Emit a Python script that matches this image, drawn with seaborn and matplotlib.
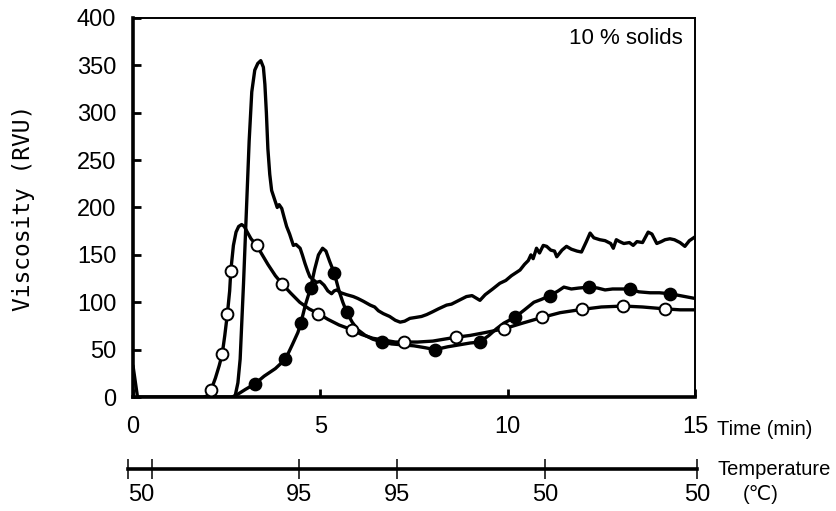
import numpy as np
import pandas as pd
import matplotlib
matplotlib.use("Agg")
import matplotlib.pyplot as plt
import seaborn as sns

# series without markers (highest peak)
t_plain = [0, 0.12, 2.72, 2.80, 2.86, 2.95, 3.03, 3.10, 3.17, 3.25, 3.33, 3.41, 3.48, 3.52, 3.56,
           3.60, 3.65, 3.70, 3.75, 3.80, 3.85, 3.90, 3.97, 4.03, 4.10, 4.18, 4.28, 4.35, 4.46, 4.52,
           4.59, 4.66, 4.72, 4.80, 4.90, 4.99, 5.10, 5.20, 5.30, 5.37, 5.44, 5.55, 5.70, 5.88, 6.00,
           6.15, 6.33, 6.45, 6.55, 6.68, 6.85, 7.00, 7.13, 7.25, 7.39, 7.55, 7.70, 7.84, 8.00, 8.15,
           8.37, 8.50, 8.70, 8.90, 9.05, 9.26, 9.40, 9.60, 9.79, 9.95, 10.10, 10.33, 10.45, 10.55,
           10.62, 10.68, 10.77, 10.85, 10.95, 11.04, 11.15, 11.25, 11.31, 11.45, 11.57, 11.70, 11.85,
           11.97, 12.10, 12.20, 12.30, 12.46, 12.60, 12.75, 12.82, 12.90, 12.99, 13.10, 13.25, 13.35,
           13.45, 13.60, 13.75, 13.85, 13.98, 14.10, 14.20, 14.33, 14.45, 14.60, 14.73, 14.85, 15.00]
v_plain = [33, 0, 0, 15, 40, 120, 200, 270, 322, 345, 352, 355, 348, 330, 300,
           262, 235, 218, 212, 206, 200, 203, 199, 190, 180, 172, 160, 161, 157, 150,
           141, 133, 127, 124, 121, 122, 118, 112, 109, 112, 113, 110, 108, 106, 104,
           101, 97, 95, 91, 88, 85, 81, 79, 80, 83, 84, 85, 87, 90, 93,
           97, 98, 102, 106, 107, 102, 108, 114, 120, 123, 128, 134, 140, 144,
           150, 146, 157, 152, 160, 159, 155, 154, 148, 155, 159, 156, 154,
           153, 164, 173, 168, 166, 165, 162, 157, 166, 164, 162, 163, 160,
           164, 163, 174, 172, 162, 164, 166, 167, 166, 163, 159, 165, 169]

# open-circle series
t_open = [1.90, 1.97, 2.08, 2.20, 2.30, 2.38, 2.45, 2.52, 2.58, 2.61, 2.68, 2.75, 2.82, 2.90, 2.97,
          3.05, 3.15, 3.30, 3.45, 3.60, 3.80, 3.99, 4.20, 4.45, 4.70, 4.95, 5.20, 5.50, 5.84, 6.10,
          6.40, 6.70, 7.00, 7.24, 7.60, 8.00, 8.30, 8.61, 9.00, 9.40, 9.90, 10.40, 10.92, 11.40,
          11.99, 12.50, 13.09, 13.60, 14.20, 14.60, 15.00]
v_open = [0, 1, 7, 20, 33, 45, 65, 88, 112, 133, 160, 174, 180, 182, 180,
          174, 167, 160, 150, 140, 128, 119, 110, 100, 93, 88, 82, 76, 71, 66,
          62, 60, 58, 58, 58, 59, 61, 63, 65, 68, 72, 78, 84, 89,
          92.5, 95, 96, 95, 93, 92, 92]
t_open_mk = [2.08, 2.38, 2.52, 2.61, 3.30, 3.99, 4.95, 5.84, 7.24, 8.61, 9.90, 10.92, 11.99, 13.09, 14.20]
v_open_mk = [7, 45, 88, 133, 160, 119, 88, 71, 58, 63, 72, 84, 92.5, 96, 92.5]

# filled-circle series
t_fill = [2.65, 2.80, 3.00, 3.26, 3.50, 3.80, 4.07, 4.25, 4.40, 4.48, 4.60, 4.74, 4.85, 4.95, 5.06,
          5.15, 5.25, 5.37, 5.50, 5.60, 5.70, 5.85, 6.00, 6.20, 6.40, 6.65, 6.90, 7.20, 7.50, 7.80,
          8.06, 8.40, 8.70, 9.00, 9.26, 9.50, 9.70, 9.90, 10.19, 10.45, 10.70, 10.90, 11.13, 11.35,
          11.50, 11.70, 11.90, 12.18, 12.40, 12.60, 12.80, 13.00, 13.26, 13.50, 13.80, 14.05, 14.33,
          14.60, 15.00]
v_fill = [0, 3, 8, 14, 22, 30, 40, 55, 68, 78, 97, 115, 135, 150, 157,
          154, 143, 131, 112, 100, 90, 79, 71, 65, 61, 58, 56, 55, 54, 52,
          50, 53, 55, 57, 58, 65, 72, 78, 84, 92, 100, 103, 107, 112,
          116, 114, 115, 116, 115, 113, 114, 114, 114, 111, 110, 110, 109,
          107, 104]
t_fill_mk = [3.26, 4.07, 4.48, 4.74, 5.37, 5.70, 6.65, 8.06, 9.26, 10.19, 11.13, 12.18, 13.26, 14.33]
v_fill_mk = [14, 40, 78, 115, 131, 90, 58, 50, 58, 84, 107, 116, 114, 109]

# temperature profile under the time axis
temp_times = [0, 0.63, 4.5, 7.1, 11.0, 15]
temp_labels = ["50", "", "95", "95", "50", "50"]

sns.set_style("ticks", {"axes.edgecolor": "black", "text.color": "black",
                        "axes.labelcolor": "black", "xtick.color": "black",
                        "ytick.color": "black"})
plt.rcParams['font.family'] = ['Liberation Sans', 'DejaVu Sans']

fig = plt.figure(figsize=(8.37, 5.11), dpi=100)
W, H = 837, 511
ax = fig.add_axes([133 / W, 1 - 397 / H, 562 / W, 379 / H])

lw = 2.4
for t, v in [(t_plain, v_plain), (t_open, v_open), (t_fill, v_fill)]:
    df = pd.DataFrame({"t": t, "v": v})
    sns.lineplot(data=df, x="t", y="v", color="black", linewidth=lw, estimator=None,
                 sort=False, ax=ax, zorder=2)

sns.scatterplot(x=t_open_mk, y=v_open_mk, ax=ax, s=72, color="white", edgecolor="black",
                linewidth=1.4, zorder=3)
sns.scatterplot(x=t_fill_mk, y=v_fill_mk, ax=ax, s=72, color="black", edgecolor="black",
                linewidth=1.4, zorder=3)

ax.set_xlim(0, 15)
ax.set_ylim(0, 400)
ax.set_xticks([0, 5, 10, 15])
ax.set_yticks(np.arange(0, 401, 50))
ax.set_xlabel("")
ax.set_ylabel("Viscosity (RVU)", family="DejaVu Sans Mono", fontsize=16.5, labelpad=30)
ax.tick_params(axis="x", direction="in", length=6, width=2, pad=14, labelsize=17)
ax.tick_params(axis="y", direction="in", length=6, width=2, pad=12, labelsize=17)
for s in ["left", "bottom"]:
    ax.spines[s].set_linewidth(2.6)
for s in ["top", "right"]:
    ax.spines[s].set_linewidth(1.4)
ax.text(0.979, 0.946, "10 % solids", transform=ax.transAxes, ha="right", va="center",
        fontsize=16)

fig.text(717 / W, 1 - 429 / H, "Time (min)", ha="left", va="center", fontsize=14.5)
fig.text(718 / W, 1 - 469 / H, "Temperature", ha="left", va="center", fontsize=14.5)
fig.text(761 / W, 1 - 494 / H, "(℃)", ha="center", va="center", fontsize=14.5)

# temperature scale
tx = fig.add_axes([128 / W, 1 - 469 / H, 569 / W, 0.0001])
tx.patch.set_visible(False)
for s in ["left", "right", "top"]:
    tx.spines[s].set_visible(False)
tx.spines["bottom"].set_linewidth(2.6)
tx.set_xlim(0, 15)
tx.set_yticks([])
tx.set_xticks(temp_times)
tx.set_xticklabels(temp_labels)
tx.get_xticklabels()[0].set_horizontalalignment("left")
tx.tick_params(axis="x", direction="inout", length=14, width=1.1, pad=4, labelsize=17)

fig.savefig("out.png", dpi=100)
